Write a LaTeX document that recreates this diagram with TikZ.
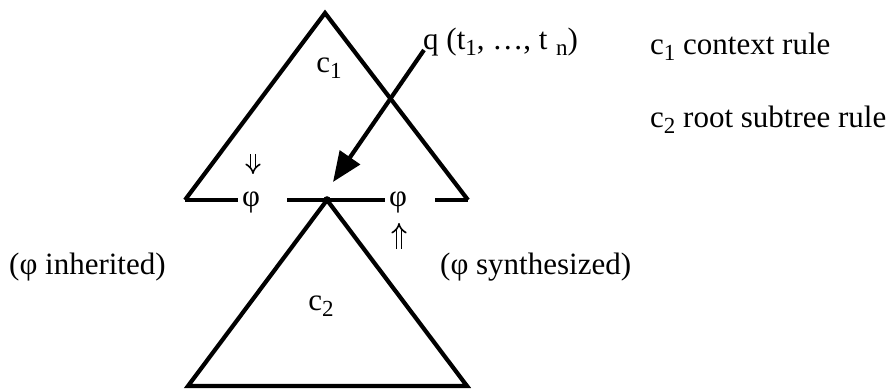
\documentclass[tikz,border=0pt]{standalone}
\usepackage{fontspec}
\setmainfont{Liberation Serif}
\usetikzlibrary{arrows.meta}
\newcommand{\subtx}[1]{\raisebox{-0.45ex}{\fontsize{23}{26}\selectfont #1}}
\begin{document}
\begin{tikzpicture}[x=1pt,y=-1pt,
  edge/.style={line width=4.2pt,line join=miter},
  baseseg/.style={line width=3.4pt},
  lbl/.style={inner sep=0pt,font=\fontsize{31}{36}\selectfont},
  lblw/.style={lbl,anchor=west},
  dblarrow/.style={double, double distance=3.6pt, line width=1.6pt, -{Implies[length=6pt]}}]
\useasboundingbox (0,0) rectangle (896,390);
% top triangle (context rule c1)
\coordinate (tA) at (325,13);
\coordinate (tL) at (185,200);
\coordinate (tR) at (468,200);
\draw[edge] (tL) -- (tA) -- (tR);
% bottom triangle (c2)
\coordinate (bA) at (327,200);
\coordinate (bL) at (188,386);
\coordinate (bR) at (467,386);
\draw[edge] (bA) -- (bL) -- (bR) -- cycle;
% base line pieces
\node[lbl] (phiL) at (251,202) {φ};
\node[lbl] (phiR) at (398,202) {φ};
\coordinate (l2) at (238,200);
\coordinate (m1) at (287,200);
\coordinate (m2) at (385,200);
\coordinate (r1) at (435,200);
\draw[baseseg] (tL) -- (l2);
\draw[baseseg] (m1) -- (m2);
\draw[baseseg] (r1) -- (tR);
\fill (bA) circle (3.8pt);
% labels
\node[lbl] (c1) at (329,68) {c\subtx{1}};
\node[lbl] (c2) at (321,306) {c\subtx{2}};
% inherited / synthesized double arrows
\coordinate (dn1) at (253,154);
\coordinate (dn2) at (253,174);
\coordinate (up1) at (399,249);
\coordinate (up2) at (399,223);
\draw[dblarrow] (dn1) -- (dn2);
\draw[dblarrow] (up1) -- (up2);
\node[lblw] (q) at (423,42) {q (t\subtx{1}, \dots, t\;\subtx{n})};
\node[lblw] (ctx) at (650,47) {c\subtx{1} context rule};
\node[lblw] (root) at (650,120) {c\subtx{2} root subtree rule};
\node[lblw] (inh) at (9,267) {(φ inherited)};
\node[lblw] (syn) at (440,267) {(φ synthesized)};
% arrow from q to root
\coordinate (qs) at (424,50);
\coordinate (qe) at (333,182);
\draw[line width=4.2pt,-{Triangle[length=30pt,width=24pt]}] (qs) -- (qe);
\end{tikzpicture}
\end{document}
